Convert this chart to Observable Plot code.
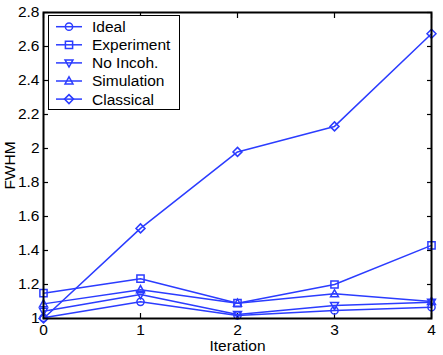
<!DOCTYPE html>
<html><head><meta charset="utf-8">
<script src="https://cdn.jsdelivr.net/npm/d3@7"></script>
<script src="https://cdn.jsdelivr.net/npm/@observablehq/plot@0.6"></script>
<style>
body{margin:0;background:#fff;}
#wrap{position:relative;width:443px;height:355px;font-family:"Liberation Sans",Arial,Helvetica,sans-serif;}
#legend{position:absolute;left:48px;top:15px;}
</style></head><body><div id="wrap"></div>
<script>
const iterations = [0, 1, 2, 3, 4];
const seriesNames = ["Ideal", "Experiment", "No Incoh.", "Simulation", "Classical"];
const ideal = [1.004, 1.098, 1.018, 1.047, 1.066];
const experiment = [1.149, 1.234, 1.090, 1.200, 1.430];
const noIncoh = [1.043, 1.141, 1.024, 1.076, 1.096];
const simulation = [1.086, 1.169, 1.090, 1.145, 1.100];
const classical = [1.000, 1.530, 1.980, 2.130, 2.675];
const xTicks = [0, 1, 2, 3, 4];
const yTicks = [1, 1.2, 1.4, 1.6, 1.8, 2, 2.2, 2.4, 2.6, 2.8];
const xLabel = "Iteration";
const yLabel = "FWHM";

const BLUE = "#2b3cff";
const values = [ideal, experiment, noIncoh, simulation, classical];
const data = [];
seriesNames.forEach((name, k) => iterations.forEach((x, i) => data.push({series: name, x, y: values[k][i]})));

// marker shapes (size = area passed by Plot; r = sqrt(size/PI))
const rOf = s => Math.sqrt(s / Math.PI);
const symCircle = {draw(c, s){ const r = rOf(s); c.moveTo(r, 0); c.arc(0, 0, r, 0, 2*Math.PI); }};
const symSquare = {draw(c, s){ const r = rOf(s); c.moveTo(-r,-r); c.lineTo(r,-r); c.lineTo(r,r); c.lineTo(-r,r); c.closePath(); }};
const symTriDown = {draw(c, s){ const r = rOf(s)*1.1; c.moveTo(-r,-r*0.75); c.lineTo(r,-r*0.75); c.lineTo(0,r*1.05); c.closePath(); }};
const symTriUp = {draw(c, s){ const r = rOf(s)*1.1; c.moveTo(-r,r*0.75); c.lineTo(r,r*0.75); c.lineTo(0,-r*1.05); c.closePath(); }};
const symDiamond = {draw(c, s){ const r = rOf(s)*1.25; c.moveTo(0,-r); c.lineTo(r,0); c.lineTo(0,r); c.lineTo(-r,0); c.closePath(); }};
const symbolRange = [symCircle, symSquare, symTriDown, symTriUp, symDiamond];
const R = 3.6;
const FONT = "'Liberation Sans', Arial, Helvetica, sans-serif";

const plot = Plot.plot({
  width: 443, height: 355,
  marginLeft: 43, marginRight: 12, marginTop: 12, marginBottom: 37,
  style: {fontFamily: FONT, fontSize: "15.5px", color: "black", background: "white", overflow: "visible"},
  x: {domain: [0, 4]},
  y: {domain: [1, 2.8]},
  symbol: {domain: seriesNames, range: symbolRange},
  marks: [
    Plot.axisX({ticks: xTicks, tickSize: -5, tickPadding: 10, tickFormat: d => String(d), label: xLabel, labelAnchor: "center", labelArrow: "none", labelOffset: 32, strokeWidth: 1.2}),
    Plot.axisX({anchor: "top", ticks: xTicks, tickSize: -5, tickFormat: () => "", label: null, strokeWidth: 1.2}),
    Plot.axisY({ticks: yTicks, tickSize: -5, tickPadding: 9, tickFormat: d => String(d), label: yLabel, labelAnchor: "center", labelArrow: "none", labelOffset: 40, strokeWidth: 1.2}),
    Plot.axisY({anchor: "right", ticks: yTicks, tickSize: -5, tickFormat: () => "", label: null, strokeWidth: 1.2}),
    Plot.line(data, {x: "x", y: "y", z: "series", stroke: BLUE, strokeWidth: 1.5}),
    Plot.dot(data, {x: "x", y: "y", symbol: "series", r: R, stroke: BLUE, fill: "none", strokeWidth: 1.5}),
    Plot.frame({stroke: "black", strokeWidth: 2})
  ]
});
const wrap = document.getElementById("wrap");
wrap.appendChild(plot);

// legend overlay
const LW = 131, LH = 94, rowH = 18.1, row0 = 11.7;
const svg = d3.select(wrap).append("svg").attr("id", "legend").attr("width", LW + 1).attr("height", LH + 1);
svg.append("rect").attr("x", 0.5).attr("y", 0.5).attr("width", LW).attr("height", LH).attr("fill", "white").attr("stroke", "black").attr("stroke-width", 1);
seriesNames.forEach((name, i) => {
  const y = row0 + i * rowH;
  const g = svg.append("g").attr("transform", `translate(0,${y})`);
  g.append("line").attr("x1", 8).attr("x2", 34).attr("y1", 0).attr("y2", 0).attr("stroke", BLUE).attr("stroke-width", 1.5);
  g.append("path").attr("transform", "translate(21,0)")
    .attr("d", d3.symbol(symbolRange[i], Math.PI * R * R)()).attr("fill", "none").attr("stroke", BLUE).attr("stroke-width", 1.5);
  g.append("text").attr("x", 44).attr("y", 0).attr("dy", "0.35em").attr("font-size", 15.5).attr("fill", "black")
    .attr("font-family", FONT).text(name);
});
</script></body></html>
